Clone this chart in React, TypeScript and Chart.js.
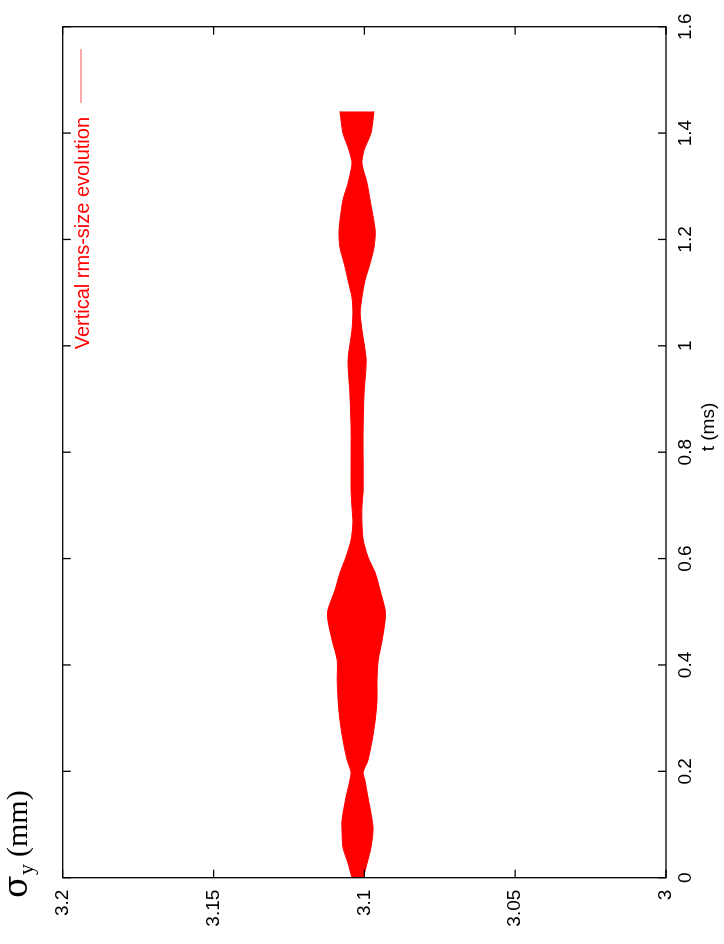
import { useEffect, useRef } from 'react';
import { Chart, registerables } from 'chart.js';

Chart.register(...registerables);

// Time (ms) sampled along the envelope of the oscillating rms size
const timeMs = [
  0.0, 0.027, 0.057, 0.089, 0.108, 0.151, 0.183, 0.198, 0.221, 0.259,
  0.296, 0.334, 0.371, 0.409, 0.447, 0.485, 0.503, 0.541, 0.573, 0.603,
  0.635, 0.667, 0.697, 0.729, 0.785, 0.847, 0.911, 0.973, 1.03, 1.062,
  1.091, 1.123, 1.155, 1.185, 1.217, 1.274, 1.306, 1.343, 1.368, 1.4, 1.441,
];
// Upper extreme of sigma_y (mm)
const sigmaMax = [
  3.1041, 3.1054, 3.1071, 3.1074, 3.1074, 3.1061, 3.1048, 3.1044, 3.1057, 3.1071,
  3.1081, 3.1087, 3.109, 3.109, 3.1107, 3.1121, 3.1121, 3.1097, 3.1081, 3.1061,
  3.1044, 3.1038, 3.1041, 3.1044, 3.1044, 3.1044, 3.1048, 3.1054, 3.1041, 3.1038,
  3.1041, 3.1054, 3.1067, 3.1081, 3.1084, 3.1071, 3.1054, 3.1041, 3.1051, 3.1071, 3.1081,
];
// Lower extreme of sigma_y (mm)
const sigmaMin = [
  3.1004, 3.0991, 3.0978, 3.0971, 3.0974, 3.0988, 3.0998, 3.1004, 3.0988, 3.0974,
  3.0964, 3.0958, 3.0958, 3.0954, 3.0941, 3.0931, 3.0931, 3.0948, 3.0964, 3.0988,
  3.1004, 3.1008, 3.1008, 3.1004, 3.1004, 3.1004, 3.1001, 3.0994, 3.1008, 3.1014,
  3.1008, 3.0998, 3.0981, 3.0968, 3.0964, 3.0981, 3.0991, 3.1008, 3.1001, 3.0978, 3.0968,
];

const xTickValues = [0, 0.2, 0.4, 0.6, 0.8, 1, 1.2, 1.4, 1.6];
const xTickLabels = ['0', '0.2', '0.4', '0.6', '0.8', '1', '1.2', '1.4', '1.6'];
const yTickValues = [3, 3.05, 3.1, 3.15, 3.2];
const yTickLabels = ['3', '3.05', '3.1', '3.15', '3.2'];

const seriesLabel = 'Vertical rms-size evolution';
const xTitle = 't (ms)';
const yTitleSymbol = 'σ';
const yTitleSub = 'y';
const yTitleUnit = '(mm)';

const W = 944;
const H = 724;
const SANS = '"Liberation Sans", Arial, sans-serif';
const SERIF = '"Liberation Serif", "Times New Roman", serif';
const SYMBOL = '"DejaVu Serif", serif';

const decorPlugin = {
  id: 'decor',
  afterDraw(chart: any) {
    const { ctx, chartArea, scales } = chart;
    const { left, right, top, bottom } = chartArea;
    ctx.save();
    // frame
    ctx.strokeStyle = '#000';
    ctx.lineWidth = 1.3;
    ctx.strokeRect(left, top, right - left, bottom - top);
    // inward ticks (with mirror)
    const tl = 8;
    ctx.beginPath();
    xTickValues.forEach((v) => {
      const px = scales.x.getPixelForValue(v);
      ctx.moveTo(px, bottom);
      ctx.lineTo(px, bottom - tl);
      ctx.moveTo(px, top);
      ctx.lineTo(px, top + tl);
    });
    yTickValues.forEach((v) => {
      const py = scales.y.getPixelForValue(v);
      ctx.moveTo(left, py);
      ctx.lineTo(left + tl, py);
      ctx.moveTo(right, py);
      ctx.lineTo(right - tl, py);
    });
    ctx.stroke();

    // legend
    ctx.font = `20px ${SANS}`;
    ctx.fillStyle = '#ff0000';
    ctx.textAlign = 'right';
    ctx.textBaseline = 'alphabetic';
    ctx.fillText(seriesLabel, 827, 89);
    ctx.strokeStyle = '#ff5555';
    ctx.lineWidth = 1;
    ctx.beginPath();
    ctx.moveTo(841, 81);
    ctx.lineTo(895, 81);
    ctx.stroke();

    // x title
    ctx.fillStyle = '#000';
    ctx.font = `19px ${SANS}`;
    ctx.textAlign = 'center';
    ctx.fillText(xTitle, 517, 714);

    // y title (sigma_y (mm))
    ctx.textAlign = 'left';
    ctx.font = `33px ${SYMBOL}`;
    ctx.fillText(yTitleSymbol, 46, 27);
    ctx.font = `22px ${SERIF}`;
    ctx.fillText(yTitleSub, 69, 33);
    ctx.font = `30px ${SERIF}`;
    ctx.fillText(yTitleUnit, 87, 27);
    ctx.restore();
  },
};

export default function App() {
  const ref = useRef<HTMLCanvasElement | null>(null);

  useEffect(() => {
    if (!ref.current) return;
    const chart = new Chart(ref.current, {
      type: 'line',
      data: {
        datasets: [
          {
            label: seriesLabel,
            data: timeMs.map((t, i) => ({ x: t, y: sigmaMin[i] })),
            borderColor: '#ff0000',
            backgroundColor: '#ff0000',
            borderWidth: 1,
            pointRadius: 0,
            tension: 0.25,
            fill: false,
          },
          {
            label: seriesLabel + ' (max)',
            data: timeMs.map((t, i) => ({ x: t, y: sigmaMax[i] })),
            borderColor: '#ff0000',
            backgroundColor: '#ff0000',
            borderWidth: 1,
            pointRadius: 0,
            tension: 0.25,
            fill: '-1',
          },
        ],
      },
      options: {
        animation: false,
        responsive: false,
        devicePixelRatio: 1,
        layout: { padding: { left: 6.3, right: 26.7, top: 62.7, bottom: 8 } },
        plugins: {
          legend: { display: false },
          tooltip: { enabled: false },
        },
        scales: {
          x: {
            type: 'linear',
            position: 'bottom',
            min: 0,
            max: 1.6,
            grid: { display: false, drawTicks: false },
            border: { display: false },
            afterBuildTicks: (scale: any) => {
              scale.ticks = xTickValues.map((v) => ({ value: v }));
            },
            afterFit: (scale: any) => {
              scale.height = 50;
            },
            ticks: {
              autoSkip: false,
              maxRotation: 0,
              minRotation: 0,
              padding: 8,
              color: '#000',
              font: { family: SANS, size: 19 },
              callback: (_v: any, i: number) => xTickLabels[i] ?? '',
            },
          },
          y: {
            type: 'linear',
            position: 'left',
            min: 3,
            max: 3.2,
            grid: { display: false, drawTicks: false },
            border: { display: false },
            afterBuildTicks: (scale: any) => {
              scale.ticks = yTickValues.map((v) => ({ value: v }));
            },
            afterFit: (scale: any) => {
              scale.width = 60;
            },
            ticks: {
              autoSkip: false,
              padding: 12,
              color: '#000',
              font: { family: SANS, size: 19 },
              callback: (_v: any, i: number) => yTickLabels[i] ?? '',
            },
          },
        },
      },
      plugins: [decorPlugin],
    });
    return () => chart.destroy();
  }, []);

  return (
    <div
      style={{
        position: 'fixed',
        left: 0,
        top: 0,
        width: W,
        height: H,
        background: '#fff',
        transformOrigin: '0 0',
        transform: `translate(0px, ${W}px) rotate(-90deg)`,
      }}
    >
      <canvas ref={ref} width={W} height={H} style={{ display: 'block', width: W, height: H }} />
    </div>
  );
}
